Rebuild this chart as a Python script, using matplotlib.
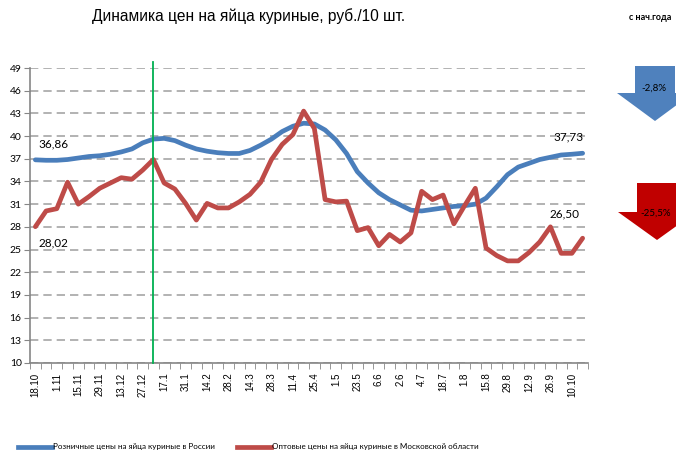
from matplotlib import pyplot as plt
from matplotlib.patches import Polygon
from matplotlib.lines import Line2D
import numpy as np

# weekly data, 52 categories
retail = [36.86, 36.8, 36.8, 36.9, 37.1, 37.3, 37.4, 37.6, 37.9, 38.3,
          39.1, 39.6, 39.7, 39.4, 38.8, 38.3, 38.0, 37.8, 37.7, 37.7,
          38.1, 38.8, 39.6, 40.6, 41.3, 41.7, 41.6, 40.8, 39.5, 37.7,
          35.3, 33.8, 32.5, 31.6, 30.9, 30.2, 30.1, 30.3, 30.5, 30.7,
          30.8, 31.0, 31.8, 33.3, 34.9, 35.9, 36.4, 36.9, 37.2, 37.5,
          37.6, 37.73]
wholesale = [28.02, 30.1, 30.4, 33.9, 31.0, 32.0, 33.1, 33.8, 34.5, 34.3,
             35.5, 36.9, 33.8, 33.0, 31.1, 28.9, 31.1, 30.5, 30.5, 31.3,
             32.3, 33.9, 36.9, 38.9, 40.2, 43.3, 41.0, 31.6, 31.3, 31.4,
             27.5, 27.9, 25.5, 27.0, 26.0, 27.2, 32.7, 31.6, 32.2, 28.4,
             30.8, 33.1, 25.2, 24.2, 23.5, 23.5, 24.6, 26.0, 28.0, 24.5,
             24.5, 26.50]
x_labels = ["18.10", "1.11", "15.11", "29.11", "13.12", "27.12", "17.1",
            "31.1", "14.2", "28.2", "14.3", "28.3", "11.4", "25.4", "1.5",
            "23.5", "6.6", "2.6", "4.7", "18.7", "1.8", "15.8", "29.8",
            "12.9", "26.9", "10.10"]
y_ticks = np.arange(10, 50, 3)
year_start = 11
change_retail = "-2,8%"
change_wholesale = "-25,5%"

W, H = 676, 457
BLUE = "#4A7EBB"
RED = "#BE4B48"
narrow = ["Liberation Sans Narrow", "Lato", "DejaVu Sans"]

fig = plt.figure(figsize=(W / 100, H / 100), dpi=100)
ax = fig.add_axes([30 / W, 1 - 363 / H, 558 / W, 295 / H])

x = np.arange(len(retail))
ax.plot(x, retail, color=BLUE, linewidth=3.4, solid_capstyle="round",
        zorder=3)
ax.plot(x, wholesale, color=RED, linewidth=3.4, solid_capstyle="round",
        zorder=3)
ax.axvline(year_start, ymin=0, ymax=1.02, color="#00B050", linewidth=1.3,
           clip_on=False, zorder=4)

ax.set_xlim(-0.5, len(retail) - 0.5)
ax.set_ylim(10, 49)
ax.set_yticks(y_ticks)
ax.set_yticklabels([str(v) for v in y_ticks], fontsize=7.5, family=narrow)
ax.set_xticks(x[::2])
ax.set_xticklabels(x_labels, rotation=90, fontsize=7,
                   family="Liberation Sans")
ax.set_xticks(np.arange(-0.5, len(retail)), minor=True)
ax.tick_params(axis="x", which="major", length=0, pad=7)
ax.tick_params(axis="x", which="minor", length=4, color="#868686",
               direction="out")
ax.tick_params(axis="y", length=4, color="#868686", pad=2)
ax.grid(axis="y", color="#A6A6A6", linestyle=(0, (5, 3)), linewidth=1.2)
ax.set_axisbelow(True)
for s in ["top", "right"]:
    ax.spines[s].set_visible(False)
for s in ["left", "bottom"]:
    ax.spines[s].set_color("#868686")
    ax.spines[s].set_linewidth(1.2)

fmt = lambda v: f"{v:.2f}".replace(".", ",")
ax.annotate(fmt(retail[0]), (0, retail[0]), xytext=(2, 9),
            textcoords="offset points", fontsize=8.5, family=narrow)
ax.annotate(fmt(wholesale[0]), (0, wholesale[0]), xytext=(2, -14),
            textcoords="offset points", fontsize=8.5, family=narrow)
ax.annotate(fmt(retail[-1]), (x[-1], retail[-1]), xytext=(-21, 9),
            textcoords="offset points", fontsize=8.5, family=narrow)
ax.annotate(fmt(wholesale[-1]), (x[-1], wholesale[-1]), xytext=(-24, 15),
            textcoords="offset points", fontsize=8.5, family=narrow)

fig.text(249 / W, 1 - 16 / H, "Динамика цен на яйца куриные, руб./10 шт.",
         ha="center", va="center", fontsize=11.2, family="Liberation Sans")
fig.text(650 / W, 1 - 17 / H, "с нач.года", ha="center", va="center",
         fontsize=6.5, fontweight="bold", family=narrow)


def arrow(cx, top, neck, tip, half_shaft, half_head, color):
    pts = [(cx - half_shaft, top), (cx + half_shaft, top),
           (cx + half_shaft, neck), (cx + half_head, neck), (cx, tip),
           (cx - half_head, neck), (cx - half_shaft, neck)]
    pts = [(px / W, 1 - py / H) for px, py in pts]
    fig.patches.append(Polygon(pts, closed=True, facecolor=color,
                               edgecolor="none", transform=fig.transFigure))


arrow(655, 66, 93, 121, 20, 38, "#4F81BD")
arrow(657, 183, 212, 240, 20, 39, "#C00000")
fig.text(654 / W, 1 - 88 / H, change_retail, ha="center", va="center",
         fontsize=7, family=narrow)
fig.text(656 / W, 1 - 213 / H, change_wholesale, ha="center", va="center",
         fontsize=7, family=narrow)

handles = [Line2D([], [], color=BLUE, linewidth=3.4),
           Line2D([], [], color=RED, linewidth=3.4)]
fig.legend(handles, ["Розничные цены на яйца куриные в России",
                     "Оптовые цены на яйца куриные в Московской области"],
           loc="center left", bbox_to_anchor=(18 / W, 1 - 447 / H), ncol=2,
           frameon=False, handlelength=4.2, handletextpad=0.15,
           columnspacing=2.7, borderaxespad=0, borderpad=0,
           prop={"family": narrow, "size": 5.8})

fig.savefig("out.png", dpi=100)
